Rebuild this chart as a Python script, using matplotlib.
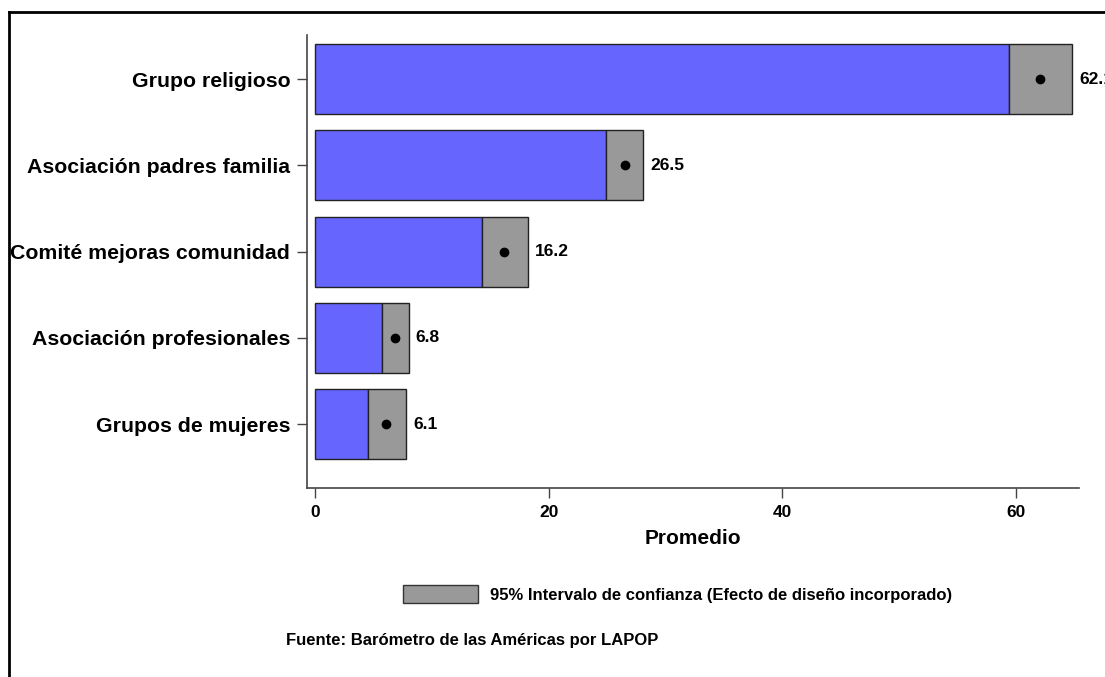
import matplotlib
matplotlib.use('Agg')
import matplotlib.pyplot as plt
from matplotlib.patches import Patch
from matplotlib.lines import Line2D

plt.rcParams['font.family'] = ['Liberation Sans', 'DejaVu Sans']
plt.rcParams['font.weight'] = 'bold'

categorias = ['Grupo religioso', 'Asociación padres familia', 'Comité mejoras comunidad',
              'Asociación profesionales', 'Grupos de mujeres']
promedio = [62.1, 26.5, 16.2, 6.8, 6.1]
ic_inf = [59.4, 24.9, 14.3, 5.7, 4.5]
ic_sup = [64.8, 28.1, 18.2, 8.0, 7.8]
etiquetas = ['62.1', '26.5', '16.2', '6.8', '6.1']

azul = '#6666ff'
gris = '#999999'

fig = plt.figure(figsize=(11.05, 6.77), dpi=100)
ax = fig.add_axes([0.2778, 0.2792, 0.9765 - 0.2778, 0.9483 - 0.2792])

n = len(categorias)
ypos = [n - 1 - i for i in range(n)]
h = 0.81

for y, lo, hi, m, lab in zip(ypos, ic_inf, ic_sup, promedio, etiquetas):
    ax.barh(y, lo, height=h, color=azul, edgecolor='#222222', linewidth=1)
    ax.barh(y, hi - lo, left=lo, height=h, color=gris, edgecolor='#222222', linewidth=1)
    ax.plot(m, y, 'o', color='black', markersize=6)
    ax.text(hi + 0.6, y, lab, va='center', ha='left', fontsize=12.5, fontweight='bold',
            clip_on=False)

ax.set_xlim(-0.7, 65.4)
ax.set_ylim(-0.74, 4.51)
ax.set_yticks(ypos)
ax.set_yticklabels(categorias, fontsize=15.3, fontweight='bold')
ax.set_xticks([0, 20, 40, 60])
ax.set_xticklabels(['0', '20', '40', '60'], fontsize=12.5, fontweight='bold')
ax.set_xlabel('Promedio', fontsize=15, fontweight='bold', labelpad=7)

for s in ['top', 'right']:
    ax.spines[s].set_visible(False)
for s in ['left', 'bottom']:
    ax.spines[s].set_color('#444444')
    ax.spines[s].set_linewidth(1.2)
ax.tick_params(axis='both', direction='out', length=7, width=1, color='#444444', pad=5)

# leyenda
leg = fig.legend(handles=[Patch(facecolor=gris, edgecolor='#333333',
                                label='95% Intervalo de confianza (Efecto de diseño incorporado)')],
                 loc='center left', bbox_to_anchor=(388 / 1105, 1 - 594 / 677), frameon=False,
                 handlelength=4.5, handleheight=1.3, handletextpad=0.75,
                 prop={'size': 12, 'weight': 'bold'})

fig.text(286 / 1105, 1 - 640 / 677, 'Fuente: Barómetro de las Américas por LAPOP',
         fontsize=12, fontweight='bold', va='center', ha='left')

# marco de la figura
fig.add_artist(Line2D([9 / 1105, 1.0], [1 - 12 / 677, 1 - 12 / 677], color='black', lw=2,
                      transform=fig.transFigure))
fig.add_artist(Line2D([9 / 1105, 9 / 1105], [1 - 12 / 677, 0], color='black', lw=2,
                      transform=fig.transFigure))

fig.savefig('out.png', dpi=100)
